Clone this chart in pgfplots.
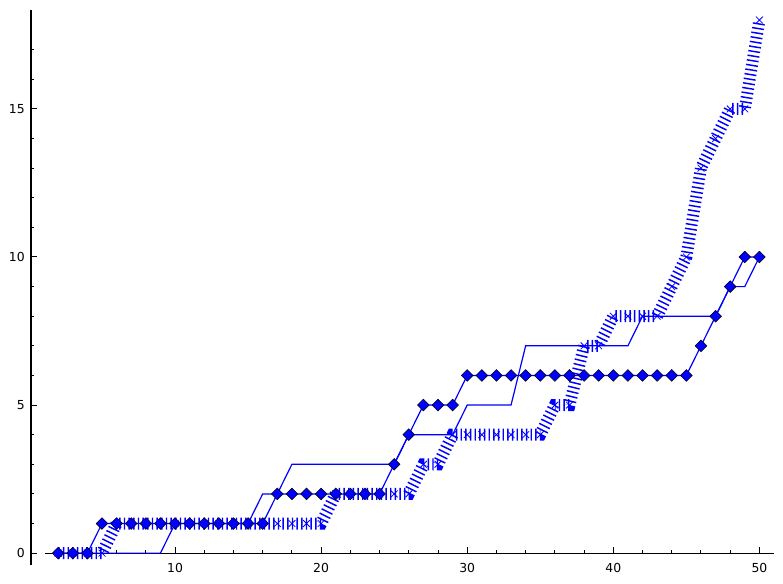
\documentclass[border=0pt]{standalone}
\usepackage{pgfplots}
\pgfplotsset{compat=1.18}
\usepackage{fontspec}
\setmainfont{DejaVu Sans}
\begin{document}
\fontsize{9.3}{11}\selectfont
\begin{tikzpicture}[x=1pt,y=1pt]
\useasboundingbox (0,0) rectangle (587.25,438);
\begin{axis}[
  at={(23.25pt,14.25pt)}, anchor=south west,
  scale only axis, width=557.25pt, height=416.25pt,
  xmin=0.14, xmax=51.0, ymin=-0.4, ymax=18.34,
  axis line style={draw=none},
  xtick=\empty, ytick=\empty,
  clip=false,
]
% axis lines and ticks
\draw[line width=0.9pt] (axis cs:0.14,-0.4) -- (axis cs:0.14,18.34);
\draw[line width=0.9pt] (axis cs:1.1,0) -- (axis cs:51,0);
\pgfplotsinvokeforeach{2,4,...,50}{\draw[line width=0.75pt] (axis cs:#1,0) -- ++(0pt,2.25pt);}
\pgfplotsinvokeforeach{10,20,30,40,50}{\draw[line width=0.75pt] (axis cs:#1,0) -- ++(0pt,4.5pt);
  \node[anchor=north,inner sep=0pt,yshift=-7.5pt] at (axis cs:#1,0) {#1};}
\pgfplotsinvokeforeach{1,2,...,17}{\draw[line width=0.75pt] (axis cs:0.14,#1) -- ++(2.25pt,0pt);}
\pgfplotsinvokeforeach{0,5,10,15}{\draw[line width=0.75pt] (axis cs:0.14,#1) -- ++(4.5pt,0pt);
  \node[anchor=east,inner sep=0pt,xshift=-4.5pt] at (axis cs:0.14,#1) {#1};}

% series 1: diamonds
\addplot[blue, line width=0.9pt, mark=square*, mark size=3.1pt,
  mark options={rotate=45, fill=blue, draw=black, line width=0.4pt}] coordinates {
(2,0)(3,0)(4,0)(5,1)(6,1)(7,1)(8,1)(9,1)(10,1)(11,1)(12,1)(13,1)(14,1)(15,1)(16,1)
(17,2)(18,2)(19,2)(20,2)(21,2)(22,2)(23,2)(24,2)(25,3)(26,4)(27,5)(28,5)(29,5)
(30,6)(31,6)(32,6)(33,6)(34,6)(35,6)(36,6)(37,6)(38,6)(39,6)(40,6)(41,6)(42,6)(43,6)(44,6)(45,6)
(46,7)(47,8)(48,9)(49,10)(50,10)};

% series 2: thin line
\addplot[blue, line width=0.9pt] coordinates {
(2,0)(3,0)(4,0)(5,0)(6,0)(7,0)(8,0)(9,0)(10,1)(11,1)(12,1)(13,1)(14,1)(15,1)
(16,2)(17,2)(18,3)(19,3)(20,3)(21,3)(22,3)(23,3)(24,3)(25,3)(26,4)(27,4)(28,4)(29,4)
(30,5)(31,5)(32,5)(33,5)(34,7)(35,7)(36,7)(37,7)(38,7)(39,7)(40,7)(41,7)
(42,8)(43,8)(44,8)(45,8)(46,8)(47,8)(48,9)(49,9)(50,10)};

% series 3: thick dotted with x marks
\addplot[blue, line width=9pt, dash pattern=on 1.1pt off 2.4pt, line cap=butt,
  mark=x, mark size=3.6pt, mark options={solid, line width=0.6pt}] coordinates {
(2,0)(3,0)(4,0)(5,0)(6,1)(7,1)(8,1)(9,1)(10,1)(11,1)(12,1)(13,1)(14,1)(15,1)(16,1)(17,1)(18,1)(19,1)(20,1)
(21,2)(22,2)(23,2)(24,2)(25,2)(26,2)(27,3)(28,3)(29,4)(30,4)(31,4)(32,4)(33,4)(34,4)(35,4)
(36,5)(37,5)(38,7)(39,7)(40,8)(41,8)(42,8)(43,8)(44,9)(45,10)(46,13)(47,14)(48,15)(49,15)(50,18)};
\end{axis}
\end{tikzpicture}
\end{document}
